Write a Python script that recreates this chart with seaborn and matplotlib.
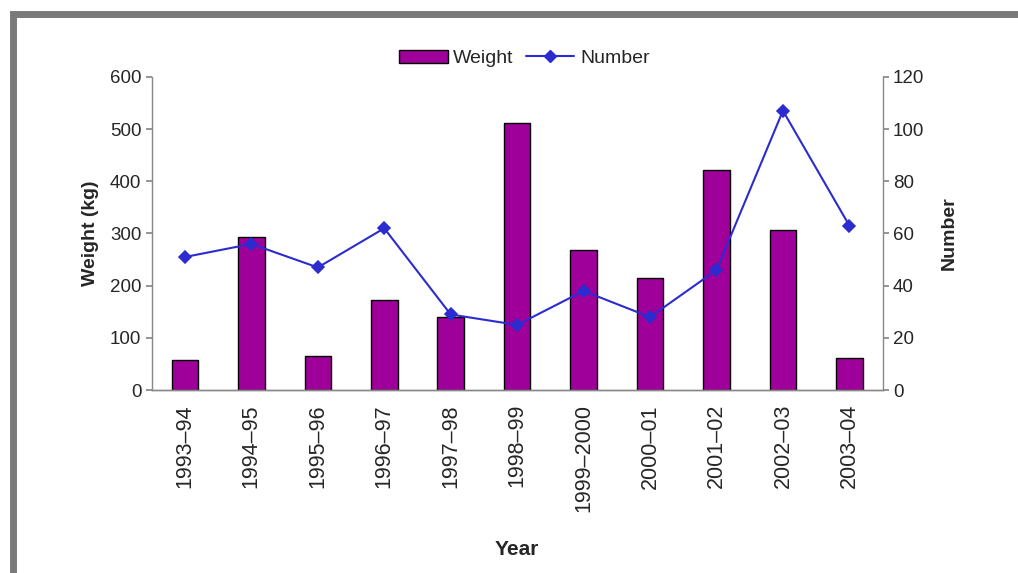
import numpy as np
import pandas as pd
import matplotlib
matplotlib.use("Agg")
import matplotlib.pyplot as plt
import seaborn as sns
from matplotlib.patches import Rectangle, Patch
from matplotlib.lines import Line2D

# ==================== DATA ====================
years = ["1993–94", "1994–95", "1995–96", "1996–97", "1997–98", "1998–99",
         "1999–2000", "2000–01", "2001–02", "2002–03", "2003–04"]
weight_kg = [57, 293, 65, 172, 140, 511, 268, 215, 421, 306, 61]
number = [51, 56, 47, 62, 29, 25, 38, 28, 46, 107, 63]

df = pd.DataFrame({"Year": years, "Weight": weight_kg, "Number": number})

BAR_COLOR = "#a0009a"
LINE_COLOR = "#2b2bd0"

# ==================== STYLE ====================
sns.set_theme(style="white")
plt.rcParams["font.family"] = ["Liberation Sans", "DejaVu Sans"]

fig = plt.figure(figsize=(10.18, 5.73), dpi=100)
ax = fig.add_axes([0.149, 0.319, 0.718, 0.547])

sns.barplot(data=df, x="Year", y="Weight", order=years, color=BAR_COLOR,
            saturation=1, width=0.4, edgecolor="black", linewidth=1.0, ax=ax)
ax.set_ylim(0, 600)
ax.set_yticks(range(0, 601, 100))

ax2 = ax.twinx()
sns.pointplot(data=df, x="Year", y="Number", order=years, color=LINE_COLOR,
              markers="D", markersize=6, linewidth=1.5, ax=ax2)
ax2.set_ylim(0, 120)
ax2.set_yticks(range(0, 121, 20))
ax.set_xlim(-0.5, len(years) - 0.5)

# axis cosmetics
for a in (ax, ax2):
    a.spines["top"].set_visible(False)
    for s in ("left", "right", "bottom"):
        a.spines[s].set_color("#888888")
        a.spines[s].set_linewidth(1.0)
    a.tick_params(axis="y", length=4, color="#888888", labelsize=13.5, direction="out")
ax.spines["right"].set_visible(False)
ax2.spines["left"].set_visible(False)

ax.set_xticks(np.arange(len(years)))
ax.set_xticklabels(years, rotation=90, fontsize=15.5)
ax.set_xticks(np.arange(len(years) + 1) - 0.5, minor=True)
ax.tick_params(axis="x", which="major", length=0, pad=10)
ax.tick_params(axis="x", which="minor", length=5, color="#888888", direction="out")

ax.set_ylabel("Weight (kg)", fontsize=14, fontweight="bold", labelpad=8)
ax2.set_ylabel("Number", fontsize=14, fontweight="bold", labelpad=12)
ax.set_xlabel("Year", fontsize=15, fontweight="bold", labelpad=20)

# legend at top
handles = [Patch(facecolor=BAR_COLOR, edgecolor="black", label="Weight"),
           Line2D([0], [0], color=LINE_COLOR, marker="D", markersize=6,
                  linewidth=1.5, label="Number")]
fig.legend(handles=handles, loc="center", bbox_to_anchor=(0.515, 0.898),
           ncol=2, frameon=False, fontsize=14, handlelength=2.5,
           columnspacing=0.6, handletextpad=0.3)

# grey outer frame
fig.patches.append(Rectangle((0.013, -0.02), 1.0, 1.0 - 0.005, transform=fig.transFigure,
                             fill=False, edgecolor="#7a7a7a", linewidth=5))

fig.savefig("out.png", dpi=100)
